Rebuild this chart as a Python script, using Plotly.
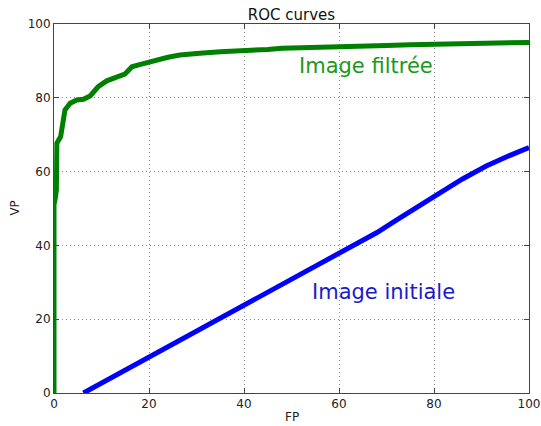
import plotly.graph_objects as go

fp_filtree = [0, 0, 0.3, 0.5, 0.6, 1.4, 2.3, 3.4, 4.8, 6.2, 7.6, 9.3, 11.1, 13.2, 14.9, 15.5,
              16.4, 18, 20.2, 22.3, 24, 26.5, 28, 30.7, 35, 40, 45, 48, 50, 55, 60, 65, 70,
              75, 80, 85, 90, 95, 100]
vp_filtree = [0, 51, 53, 55, 67.7, 69.5, 76.7, 78.5, 79.4, 79.6, 80.5, 83, 84.6, 85.5, 86.4,
              87.2, 88.4, 89, 89.8, 90.7, 91, 91.6, 91.9, 92.1, 92.5, 92.7, 93.1, 93.4, 93.5,
              93.8, 93.9, 94.1, 94.2, 94.4, 94.5, 94.6, 94.8, 94.9, 95.0]

fp_initiale = [6.2, 20, 40, 60, 68, 72, 76, 80, 86, 91, 96, 100]
vp_initiale = [0, 9.7, 23.8, 37.9, 43.5, 46.8, 50.2, 53.2, 58, 61.5, 64.4, 66.5]

ticks = [0, 20, 40, 60, 80, 100]

font = "DejaVu Sans"

fig = go.Figure()
fig.add_trace(go.Scatter(x=fp_filtree, y=vp_filtree, mode="lines",
                         line=dict(color="#008000", width=5), showlegend=False))
fig.add_trace(go.Scatter(x=fp_initiale, y=vp_initiale, mode="lines",
                         line=dict(color="#0000ff", width=5), showlegend=False))

axis_common = dict(
    range=[0, 100], tickvals=ticks, ticktext=[str(t) for t in ticks],
    showgrid=True, gridcolor="#8a8a8a", gridwidth=1, griddash="1px,3px",
    showline=True, linecolor="#444444", linewidth=1, mirror="ticks",
    ticks="inside", ticklen=5, tickcolor="#444444", automargin=False,
    zeroline=False, tickfont=dict(family=font, size=12, color="#222222"),
)

fig.update_layout(
    width=541, height=426,
    margin=dict(l=54, r=12, t=24, b=33),
    paper_bgcolor="white", plot_bgcolor="white",
    title=dict(text="ROC curves", x=0.5, xanchor="center", xref="paper",
               y=0.965, yref="container", yanchor="middle",
               font=dict(family=font, size=15, color="#111111")),
    xaxis=dict(**axis_common),
    yaxis=dict(**axis_common),
    annotations=[
        dict(x=51.2, y=88.7, text="Image filtrée", showarrow=False, xanchor="left",
             yanchor="middle", font=dict(family=font, size=21, color="#1a991a")),
        dict(x=53.8, y=27.4, text="Image initiale", showarrow=False, xanchor="left",
             yanchor="middle", font=dict(family=font, size=21, color="#1a1acc")),
        dict(x=0.5, y=-0.087, xref="paper", yref="paper", text="FP", showarrow=False,
             xanchor="center", yanchor="bottom", borderpad=0,
             font=dict(family=font, size=12, color="#222222")),
        dict(x=-0.084, y=0.5, xref="paper", yref="paper", text="VP", showarrow=False,
             xanchor="center", yanchor="middle", textangle=-90,
             font=dict(family=font, size=12, color="#222222")),
    ],
)

fig.write_html("out.html", config={"displayModeBar": False},
               post_script="document.body.style.margin='0';")
